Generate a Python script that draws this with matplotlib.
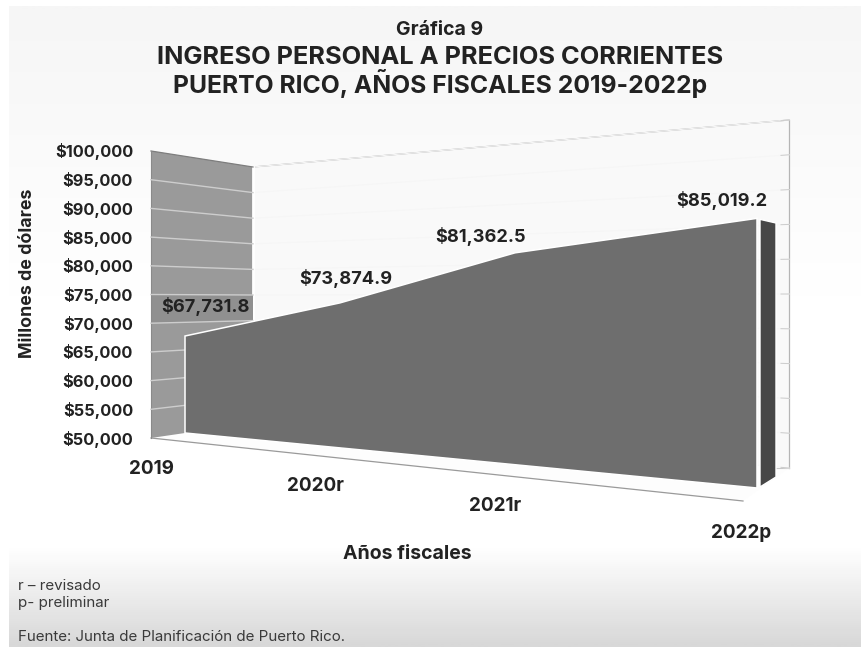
import numpy as np
import matplotlib
matplotlib.use("Agg")
import matplotlib.pyplot as plt
from matplotlib.colors import LinearSegmentedColormap
from matplotlib.patches import Polygon

plt.rcParams['font.family'] = ['Inter', 'DejaVu Sans']

# ---- data ----
categories = ['2019', '2020r', '2021r', '2022p']
values = [67731.8, 73874.9, 81362.5, 85019.2]
value_labels = ['$67,731.8', '$73,874.9', '$81,362.5', '$85,019.2']
y_ticks = [50000, 55000, 60000, 65000, 70000, 75000, 80000, 85000, 90000, 95000, 100000]
y_min, y_max = 50000, 100000

# ---- layout of the 3-D box, in picture pixels ----
W, H = 861, 647
SIDE_L = ((151, 438), (151, 151))     # (bottom, top) of a vertical edge
SIDE_R = ((253, 423), (253, 167))
BACK_R = ((789, 468), (789, 120))
FLOOR_FRONT_R = (743, 501)
FRONT_L = ((185, 433), (185, 159.5))
FRONT_R = ((757, 488), (757, 103))
DEPTH_END = ((776, 477), (776, 223))
cat_frac = [0, 0.271, 0.577, 1]
val_xy = [(206, 306), (346, 277), (481, 236), (722, 200)]
cat_xy = [(151, 468), (315, 485), (495, 505), (741, 532)]
INK = '#222222'


def plane(left, right, frac, v):
    """Pixel position of a value on a slanted wall between two vertical edges."""
    a = (v - y_min) / (y_max - y_min)
    xb = left[0][0] + frac * (right[0][0] - left[0][0])
    yb = left[0][1] + frac * (right[0][1] - left[0][1])
    yt = left[1][1] + frac * (right[1][1] - left[1][1])
    return xb, yb + a * (yt - yb)


fig = plt.figure(figsize=(W / 100, H / 100), dpi=100)
ax = fig.add_axes([0, 0, 1, 1])
ax.axis('off')

# background gradient
stops = [(0, '#f6f6f6'), (0.45, '#ffffff'), (0.85, '#ffffff'), (1, '#d8d8d8')]
cmap = LinearSegmentedColormap.from_list('bg', stops)
ax.imshow(np.linspace(0, 1, 300)[:, None], cmap=cmap, extent=(9, W, H, 6), aspect='auto', zorder=0)
ax.set_xlim(0, W)
ax.set_ylim(H, 0)

# floor
ax.add_patch(Polygon([SIDE_L[0], SIDE_R[0], BACK_R[0], FLOOR_FRONT_R], fc='#fdfdfd', ec='none', zorder=1))
ax.plot(*zip(SIDE_L[0], FLOOR_FRONT_R), color='#9a9a9a', lw=0.9, zorder=2)

# back wall
ax.add_patch(Polygon([SIDE_R[0], SIDE_R[1], BACK_R[1], BACK_R[0]], fc='#f9f9f9', ec='none', zorder=1))
ax.plot(*zip(SIDE_R[1], BACK_R[1]), color='#a8a8a8', lw=0.9, zorder=2)
ax.plot(*zip(BACK_R[1], BACK_R[0]), color='#b5b5b5', lw=0.9, zorder=2)
ax.plot(*zip(BACK_R[0], (770, 468)), color='#c8c8c8', lw=0.8, zorder=2)
for t in y_ticks:
    p0 = plane(SIDE_R, BACK_R, 0, t)
    p1 = plane(SIDE_R, BACK_R, 1, t)
    ax.plot(*zip(p0, p1), color='#f6f6f6', lw=0.8, zorder=2)
    p2 = plane(SIDE_R, BACK_R, 0.985, t)
    ax.plot(*zip(p2, p1), color='#cccccc', lw=0.7, zorder=2)

# side wall
ax.add_patch(Polygon([SIDE_L[0], SIDE_L[1], SIDE_R[1], SIDE_R[0]], fc='#9a9a9a', ec='none', zorder=3))
ax.plot(*zip(SIDE_R[0], SIDE_R[1]), color='#ffffff', lw=2, zorder=3)
ax.plot(*zip(SIDE_L[1], SIDE_R[1]), color='#7d7d7d', lw=0.9, zorder=4)
ax.plot(*zip(SIDE_L[0], SIDE_L[1]), color='#8a8a8a', lw=0.8, zorder=4)
band = [plane(SIDE_L, SIDE_R, 0, 70000), plane(SIDE_L, SIDE_R, 0, 75000),
        plane(SIDE_L, SIDE_R, 1, 75000), plane(SIDE_L, SIDE_R, 1, 70000)]
ax.add_patch(Polygon(band, fc='#909090', ec='none', zorder=3))
for t in y_ticks[1:-1]:
    p0 = plane(SIDE_L, SIDE_R, 0, t)
    p1 = plane(SIDE_L, SIDE_R, 1, t)
    ax.plot(*zip(p0, p1), color='#cdcdcd', lw=1, zorder=4)

# area: front face and its right end
top = [plane(FRONT_L, FRONT_R, f, v) for f, v in zip(cat_frac, values)]
bottom = [plane(FRONT_L, FRONT_R, 0, y_min), plane(FRONT_L, FRONT_R, 1, y_min)]
ax.add_patch(Polygon(top + bottom[::-1], fc='#6e6e6e', ec='#ffffff', lw=1.1, zorder=5, joinstyle='miter'))
end_top = top[-1]
depth_top = (DEPTH_END[1][0], DEPTH_END[1][1])
depth_bot = (DEPTH_END[0][0], DEPTH_END[0][1])
ax.add_patch(Polygon([(end_top[0] + 3, end_top[1] + 1), depth_top, depth_bot, (bottom[1][0] + 3, bottom[1][1] - 1)],
                     fc='#474747', ec='#ffffff', lw=1, zorder=5))

# value labels
for (x, y), s in zip(val_xy, value_labels):
    ax.text(x, y + 1, s, ha='center', va='center', fontsize=13.1, fontweight='bold', color=INK, zorder=7)

# y tick labels
for t in y_ticks:
    px = plane(SIDE_L, SIDE_R, 0, t)
    ax.text(133, px[1] + 1, f'${t:,}', ha='right', va='center', fontsize=11.8, fontweight='bold', color=INK)

# x tick labels
for (x, y), s in zip(cat_xy, categories):
    ax.text(x, y + 1, s, ha='center', va='center', fontsize=13.6, fontweight='bold', color=INK)

# axis titles
ax.text(28, 273, 'Millones de dólares', rotation=90, ha='center', va='center', fontsize=12.8, fontweight='bold', color=INK)
ax.text(407, 554, 'Años fiscales', ha='center', va='center', fontsize=14, fontweight='bold', color=INK)

# title
ax.text(440, 30, 'Gráfica 9', ha='center', va='center', fontsize=14, fontweight='bold', color=INK)
ax.text(440, 57, 'INGRESO PERSONAL A PRECIOS CORRIENTES', ha='center', va='center', fontsize=18.3, fontweight='bold', color=INK)
ax.text(440, 84, 'PUERTO RICO, AÑOS FISCALES 2019-2022p', ha='center', va='center', fontsize=17.8, fontweight='bold', color=INK)

# notes
for y, s in [(586, 'r – revisado'), (603, 'p- preliminar'), (637, 'Fuente: Junta de Planificación de Puerto Rico.')]:
    ax.text(18, y, s, ha='left', va='center', fontsize=10.9, color='#3a3a3a')

fig.savefig('out.png', dpi=100)
